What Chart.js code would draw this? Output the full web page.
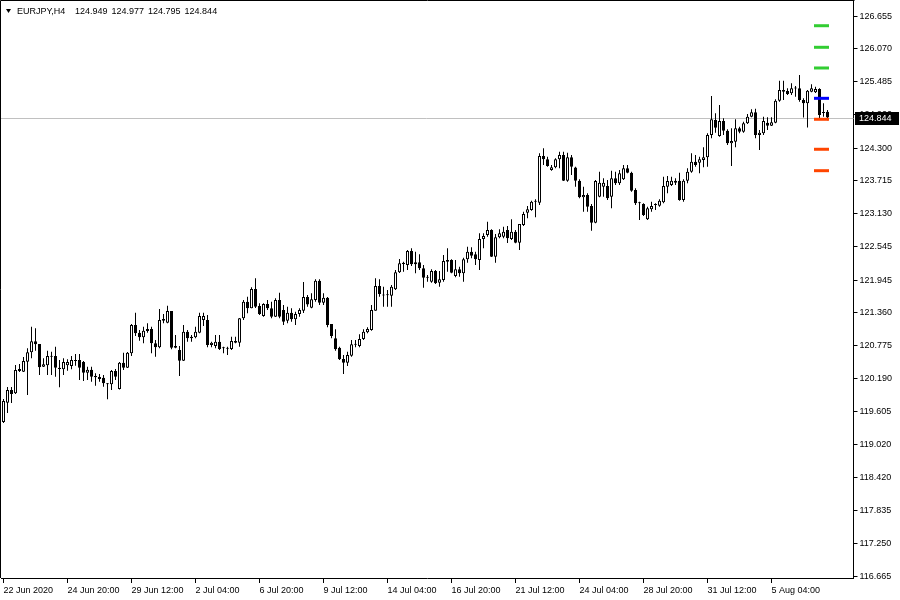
<!DOCTYPE html>
<html>
<head>
<meta charset="utf-8">
<script src="https://cdn.jsdelivr.net/npm/chart.js@4.4.1/dist/chart.umd.min.js"></script>
<style>
html, body { margin: 0; padding: 0; background: #fff; }
</style>
</head>
<body>
<canvas id="eurjpyChart" width="900" height="600"></canvas>
<script>
// EURJPY H4, 22 Jun - 7 Aug 2020
var symbolName = 'EURJPY,H4';
var titleQuotes = ['124.949', '124.977', '124.795', '124.844'];

var opens = [119.413,119.758,119.984,119.925,120.323,120.311,120.489,120.657,120.853,120.805,
120.400,120.425,120.591,120.591,120.382,120.353,120.425,120.412,120.519,120.519,
120.484,120.293,120.346,120.234,120.216,120.204,120.104,120.086,120.323,120.002,
120.471,120.382,120.639,121.144,121.006,120.924,121.037,121.072,120.817,120.746,
121.220,121.185,121.393,120.769,120.698,120.507,121.024,120.906,120.924,121.006,
121.233,121.233,120.787,120.769,120.846,120.728,120.728,120.716,120.828,120.828,
121.263,121.559,121.441,121.786,121.482,121.304,121.518,121.441,121.292,121.590,
121.411,121.220,121.363,121.245,121.340,121.399,121.643,121.452,121.590,121.934,
121.541,121.631,121.162,120.906,120.739,120.537,120.471,120.596,120.792,120.769,
120.894,121.013,121.054,121.399,121.839,121.679,121.679,121.666,121.780,122.084,
122.232,122.214,122.464,122.226,122.262,122.155,121.987,121.916,122.107,121.898,
121.946,122.303,122.303,122.018,122.137,122.066,122.316,122.451,122.405,122.303,
122.678,122.749,122.838,122.362,122.708,122.719,122.838,122.678,122.808,122.612,
122.927,123.147,123.195,123.343,123.325,124.158,124.099,123.909,123.957,124.099,
124.176,123.718,124.135,123.953,123.718,123.421,123.463,123.266,122.968,123.432,
123.611,123.623,123.432,123.760,123.671,123.743,123.939,123.860,123.552,123.314,
123.302,123.029,123.208,123.284,123.272,123.332,123.611,123.641,123.718,123.718,
123.373,123.718,123.878,124.057,124.039,124.087,124.135,124.533,124.800,124.515,
124.783,124.610,124.385,124.413,124.652,124.592,124.742,124.859,124.938,124.533,
124.563,124.752,124.699,124.752,125.145,125.336,125.318,125.277,125.371,125.366,
125.157,125.098,125.305,125.295,125.353,124.925,124.949];

var highs = [119.824,120.038,120.038,120.430,120.448,120.573,120.728,121.113,121.085,120.805,
120.550,120.685,120.667,120.757,120.519,120.550,120.532,120.591,120.626,120.626,
120.501,120.400,120.400,120.282,120.270,120.252,120.109,120.341,120.359,120.484,
120.650,120.662,121.162,121.363,121.054,121.113,121.174,121.113,120.876,121.429,
121.340,121.488,121.393,120.965,120.769,121.144,121.054,120.965,121.113,121.363,
121.363,121.322,120.846,120.965,120.965,120.757,120.757,120.935,120.935,121.269,
121.590,121.648,121.816,121.977,121.531,121.531,121.590,121.559,121.620,121.720,
121.500,121.470,121.441,121.381,121.441,121.911,121.679,121.709,121.959,121.959,
121.709,121.643,121.162,121.067,120.757,120.609,120.667,120.876,120.876,120.978,
121.067,121.103,121.500,121.977,121.959,121.827,121.768,121.857,122.125,122.321,
122.273,122.481,122.512,122.451,122.405,122.214,122.035,122.137,122.125,122.107,
122.392,122.512,122.316,122.303,122.184,122.344,122.541,122.530,122.451,122.779,
122.779,122.986,122.851,122.767,122.851,122.897,122.910,123.029,122.838,122.945,
123.165,123.266,123.361,123.386,124.206,124.296,124.146,123.998,124.117,124.235,
124.235,124.217,124.176,123.967,123.743,123.611,123.493,123.302,123.730,123.878,
123.760,123.730,123.896,123.878,123.909,123.998,123.998,123.878,123.582,123.343,
123.314,123.254,123.343,123.314,123.386,123.789,123.802,123.789,123.760,123.860,
123.743,123.939,124.206,124.176,124.146,124.314,124.563,125.229,124.920,125.068,
124.831,124.635,124.652,124.813,124.681,124.770,124.907,124.991,125.003,124.622,
124.859,124.848,124.848,125.170,125.502,125.502,125.366,125.455,125.407,125.603,
125.188,125.336,125.437,125.395,125.366,125.098,124.977];

var lows = [119.395,119.574,119.752,119.913,120.305,120.305,119.895,120.550,120.685,120.252,
120.394,120.252,120.252,120.222,120.032,120.252,120.328,120.353,120.418,120.163,
120.145,120.163,120.132,120.061,120.132,120.043,119.818,119.984,120.163,119.993,
120.341,120.377,120.591,120.948,120.864,120.817,121.006,120.639,120.578,120.728,
121.174,121.174,120.710,120.728,120.234,120.501,120.846,120.846,120.906,120.995,
121.126,120.746,120.746,120.728,120.698,120.639,120.609,120.698,120.817,120.757,
121.233,121.352,121.441,121.447,121.322,121.292,121.411,121.263,121.286,121.263,
121.144,121.174,121.203,121.144,121.292,121.358,121.470,121.441,121.559,121.500,
121.500,121.103,120.906,120.685,120.519,120.270,120.412,120.578,120.746,120.746,
120.876,120.995,121.042,121.399,121.648,121.470,121.470,121.470,121.768,122.071,
122.095,122.125,122.196,122.066,122.125,121.809,121.916,121.898,121.875,121.827,
121.916,122.095,122.066,121.994,122.005,121.916,122.255,122.333,122.214,122.125,
122.512,122.719,122.357,122.255,122.690,122.690,122.606,122.660,122.601,122.481,
122.910,123.047,123.183,123.065,123.284,123.998,123.967,123.896,123.939,123.939,
123.712,123.700,123.819,123.611,123.404,123.165,123.165,122.826,122.958,123.421,
123.432,123.373,123.225,123.641,123.641,123.730,123.850,123.521,123.284,123.017,
123.088,123.017,123.165,123.195,123.254,123.314,123.493,123.623,123.641,123.361,
123.343,123.671,123.860,123.967,123.850,123.957,123.967,124.474,124.574,124.503,
124.533,124.355,123.980,124.314,124.563,124.574,124.729,124.848,124.474,124.265,
124.533,124.622,124.693,124.742,125.127,125.157,125.246,125.246,125.216,125.127,
124.845,124.667,125.295,125.282,124.836,124.859,124.795];

var closes = [119.788,119.984,119.913,120.341,120.359,120.501,120.657,120.853,120.800,120.389,
120.443,120.591,120.578,120.382,120.359,120.484,120.484,120.519,120.501,120.382,
120.293,120.346,120.222,120.211,120.180,120.104,120.086,120.323,120.222,120.471,
120.382,120.650,121.144,120.996,120.924,121.042,121.072,120.817,120.746,121.233,
121.251,121.393,120.739,120.739,120.507,121.024,120.906,120.935,121.024,121.304,
121.304,120.787,120.828,120.846,120.716,120.734,120.721,120.858,120.858,121.263,
121.559,121.441,121.786,121.470,121.340,121.518,121.441,121.292,121.590,121.292,
121.203,121.363,121.245,121.340,121.411,121.643,121.509,121.602,121.934,121.541,
121.631,121.144,120.948,120.710,120.532,120.471,120.609,120.800,120.805,120.894,
121.024,121.072,121.411,121.839,121.697,121.670,121.673,121.827,122.084,122.244,
122.255,122.464,122.226,122.262,122.155,121.987,121.994,122.107,121.888,121.959,
122.285,122.273,122.077,122.137,122.066,122.316,122.451,122.380,122.316,122.678,
122.731,122.838,122.362,122.708,122.779,122.808,122.690,122.808,122.612,122.945,
123.124,123.208,123.343,123.350,124.158,124.099,123.980,123.957,124.099,124.176,
123.718,124.135,123.967,123.718,123.421,123.463,123.254,122.968,123.712,123.682,
123.682,123.404,123.760,123.671,123.850,123.939,123.860,123.539,123.314,123.320,
123.106,123.225,123.266,123.293,123.361,123.623,123.712,123.718,123.682,123.373,
123.718,123.878,124.057,123.998,124.099,124.135,124.533,124.813,124.663,124.783,
124.610,124.385,124.426,124.652,124.592,124.742,124.859,124.938,124.533,124.574,
124.783,124.699,124.759,125.145,125.336,125.305,125.264,125.366,125.362,125.157,
125.098,125.323,125.366,125.353,124.890,124.934,124.844];

// time axis labels, one every 16 bars
var timeLabels = ['22 Jun 2020', '24 Jun 20:00', '29 Jun 12:00', '2 Jul 04:00', '6 Jul 20:00',
  '9 Jul 12:00', '14 Jul 04:00', '16 Jul 20:00', '21 Jul 12:00', '24 Jul 04:00',
  '28 Jul 20:00', '31 Jul 12:00', '5 Aug 04:00'];
var barsPerLabel = 16;
var shiftBars = 6; // empty space right of the last bar

var priceTicks = [126.655, 126.070, 125.485, 124.900, 124.300, 123.715, 123.130, 122.545,
  121.945, 121.360, 120.775, 120.190, 119.605, 119.020, 118.420, 117.835, 117.250, 116.665];

// pivot levels of the current session (R3..S3)
var pivotLevels = [126.482, 126.097, 125.728, 125.187, 124.813, 124.278, 123.896];
var pivotColors = ['#32cd32', '#32cd32', '#32cd32', '#0000ff', '#ff4500', '#ff4500', '#ff4500'];
var pivotFrom = 203, pivotTo = 206;

var nBars = opens.length + shiftBars;
var labels = [];
for (var i = 0; i < nBars; i++) {
    labels.push(i % barsPerLabel === 0 && timeLabels[i / barsPerLabel] ? timeLabels[i / barsPerLabel] : '');
}

var bodies = opens.map((o, i) => [o, closes[i]]);
var wicks = lows.map((l, i) => [l, highs[i]]);
var bodyFill = opens.map((o, i) => closes[i] >= o ? '#ffffff' : '#000000');

var datasets = [];
pivotLevels.forEach(function (lvl, k) {
    var d = labels.map((_, i) => (i >= pivotFrom && i <= pivotTo) ? lvl : null);
    datasets.push({
        type: 'line',
        data: d,
        borderColor: pivotColors[k],
        borderWidth: 3,
        borderCapStyle: 'square',
        pointRadius: 0,
        order: 0
    });
});
datasets.push({
    type: 'bar',
    data: bodies,
    backgroundColor: bodyFill,
    borderColor: '#000000',
    borderWidth: 1,
    borderSkipped: false,
    barThickness: 3,
    minBarLength: 1,
    inflateAmount: 0,
    grouped: false,
    order: 1
});
datasets.push({
    type: 'bar',
    data: wicks,
    backgroundColor: '#000000',
    borderWidth: 0,
    barThickness: 1,
    inflateAmount: 0,
    grouped: false,
    order: 2
});

var mtFont = { family: 'Liberation Sans', size: 9 };

var terminalPlugin = {
    id: 'terminal',
    beforeDatasetsDraw: function (chart) {
        var ctx = chart.ctx, a = chart.chartArea;
        var py = Math.round(chart.scales.y.getPixelForValue(closes[closes.length - 1])) + 0.5;
        ctx.save();
        ctx.strokeStyle = '#c0c0c0';
        ctx.lineWidth = 1;
        ctx.beginPath();
        ctx.moveTo(0, py);
        ctx.lineTo(a.right, py);
        ctx.stroke();
        ctx.restore();
    },
    afterDraw: function (chart) {
        var ctx = chart.ctx, a = chart.chartArea;
        var last = closes[closes.length - 1];
        var py = Math.round(chart.scales.y.getPixelForValue(last));
        ctx.save();
        // frame
        ctx.strokeStyle = '#000';
        ctx.lineWidth = 1;
        ctx.beginPath();
        ctx.moveTo(0.5, a.bottom);
        ctx.lineTo(0.5, 0.5);
        ctx.lineTo(Math.round(a.right) + 0.5, 0.5);
        ctx.stroke();
        // price tag
        ctx.fillStyle = '#000';
        ctx.fillRect(Math.round(a.right) + 1, py - 6, 44, 13);
        ctx.fillStyle = '#fff';
        ctx.font = '9px "Liberation Sans"';
        ctx.textBaseline = 'middle';
        ctx.textAlign = 'left';
        ctx.fillText(last.toFixed(3), Math.round(a.right) + 5, py + 0.5);
        // title line
        ctx.fillStyle = '#000';
        ctx.beginPath();
        ctx.moveTo(6, 9);
        ctx.lineTo(11, 9);
        ctx.lineTo(8.5, 13);
        ctx.closePath();
        ctx.fill();
        ctx.fillText(symbolName, 17, 11.5);
        var tx = 75;
        titleQuotes.forEach(function (q) {
            ctx.fillText(q, tx, 11.5);
            tx += ctx.measureText(q).width + 4;
        });
        ctx.restore();
    }
};

var ctx = document.getElementById('eurjpyChart').getContext('2d');
var eurjpyChart = new Chart(ctx, {
    type: 'bar',
    data: { labels: labels, datasets: datasets },
    options: {
        responsive: false,
        animation: false,
        events: [],
        layout: { padding: { left: 1.5, top: 1, right: 0, bottom: 0 } },
        plugins: { legend: { display: false }, tooltip: { enabled: false } },
        scales: {
            x: {
                offset: true,
                grid: { drawOnChartArea: false, drawTicks: true, tickLength: 5, color: '#000', offset: false },
                border: { color: '#000' },
                ticks: { autoSkip: false, maxRotation: 0, minRotation: 0, align: 'start', padding: 2, color: '#000', font: mtFont },
                afterBuildTicks: function (s) { s.ticks = s.ticks.filter(t => labels[t.value] !== ''); },
                afterFit: function (s) { s.height = 22; s.paddingLeft = 0; s.paddingRight = 0; }
            },
            y: {
                position: 'right',
                min: 116.630,
                max: 126.923,
                grid: { drawOnChartArea: false, drawTicks: true, tickLength: 4, color: '#000' },
                border: { color: '#000' },
                ticks: { autoSkip: false, padding: 2, color: '#000', font: mtFont, callback: v => v.toFixed(3) },
                afterBuildTicks: function (s) { s.ticks = priceTicks.map(v => ({ value: v })); },
                afterFit: function (s) { s.width = 46.5; s.paddingTop = 0; s.paddingBottom = 0; }
            }
        }
    },
    plugins: [terminalPlugin]
});
</script>
</body>
</html>
